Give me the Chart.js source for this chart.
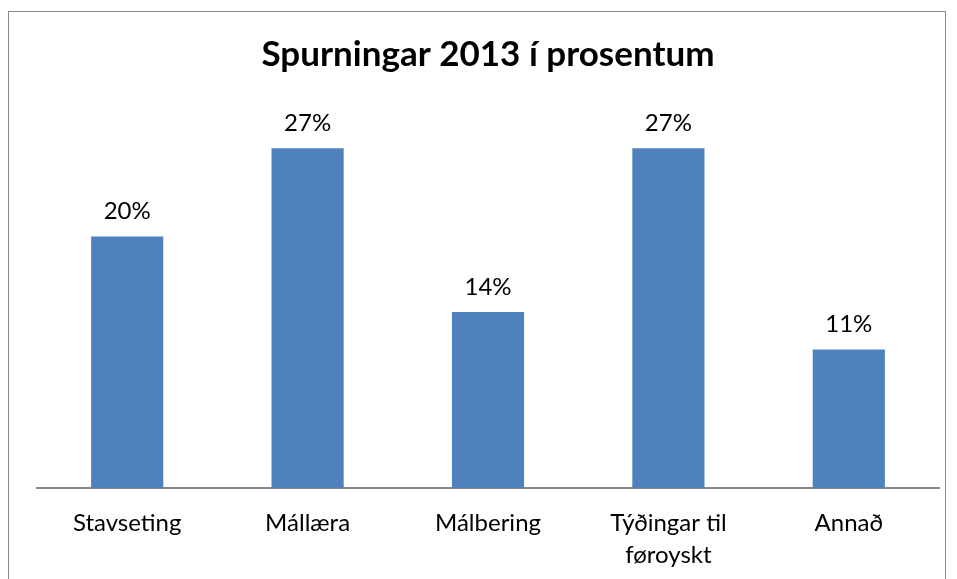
<!DOCTYPE html>
<html>
<head>
<meta charset="utf-8">
<script src="https://cdn.jsdelivr.net/npm/chart.js@4"></script>
<style>
  html, body { margin: 0; padding: 0; background: #fff; }
  #wrap { position: relative; width: 957px; height: 579px; }
  #frame { position: absolute; left: 8px; top: 11px; width: 936px; height: 600px;
           border: 1.5px solid #8a8a8a; pointer-events: none; }
</style>
</head>
<body>
<div id="wrap">
  <canvas id="barChart" width="957" height="579"></canvas>
  <div id="frame"></div>
</div>
<script>
const categories = ["Stavseting", "Mállæra", "Málbering", ["Týðingar til", "føroyskt"], "Annað"];
const values = [20, 27, 14, 27, 11];
const valueLabels = ["20%", "27%", "14%", "27%", "11%"];

const FONT = "Lato, 'Liberation Sans', sans-serif";

// labels above the bars
const barLabels = {
  id: "barLabels",
  afterDatasetsDraw(chart) {
    const ctx = chart.ctx;
    const meta = chart.getDatasetMeta(0);
    ctx.save();
    ctx.font = "24px " + FONT;
    ctx.fillStyle = "#000";
    ctx.textAlign = "center";
    ctx.textBaseline = "middle";
    meta.data.forEach((bar, i) => {
      ctx.fillText(valueLabels[i], bar.x, bar.y - 25);
    });
    ctx.restore();
  }
};

new Chart(document.getElementById("barChart"), {
  type: "bar",
  data: {
    labels: categories,
    datasets: [{
      data: values,
      backgroundColor: "#4f81bd",
      barPercentage: 0.4,
      categoryPercentage: 1.0
    }]
  },
  options: {
    responsive: false,
    animation: false,
    layout: { padding: { left: 37, right: 18, top: 34, bottom: 0 } },
    plugins: {
      legend: { display: false },
      tooltip: { enabled: false },
      title: {
        display: true,
        text: "Spurningar 2013 í prosentum",
        color: "#000",
        font: { family: FONT, size: 35, weight: "bold", lineHeight: 1.2 },
        padding: { top: 0, bottom: 34.6 }
      }
    },
    scales: {
      x: {
        grid: { display: false, drawTicks: false },
        border: { display: true, color: "#868686", width: 2 },
        ticks: {
          color: "#000",
          padding: 19,
          maxRotation: 0,
          font: { family: FONT, size: 24, lineHeight: 1.35 }
        },
        afterFit(scale) { scale.height = 91; }
      },
      y: {
        display: false,
        min: 0,
        max: 30
      }
    }
  },
  plugins: [barLabels]
});
</script>
</body>
</html>
